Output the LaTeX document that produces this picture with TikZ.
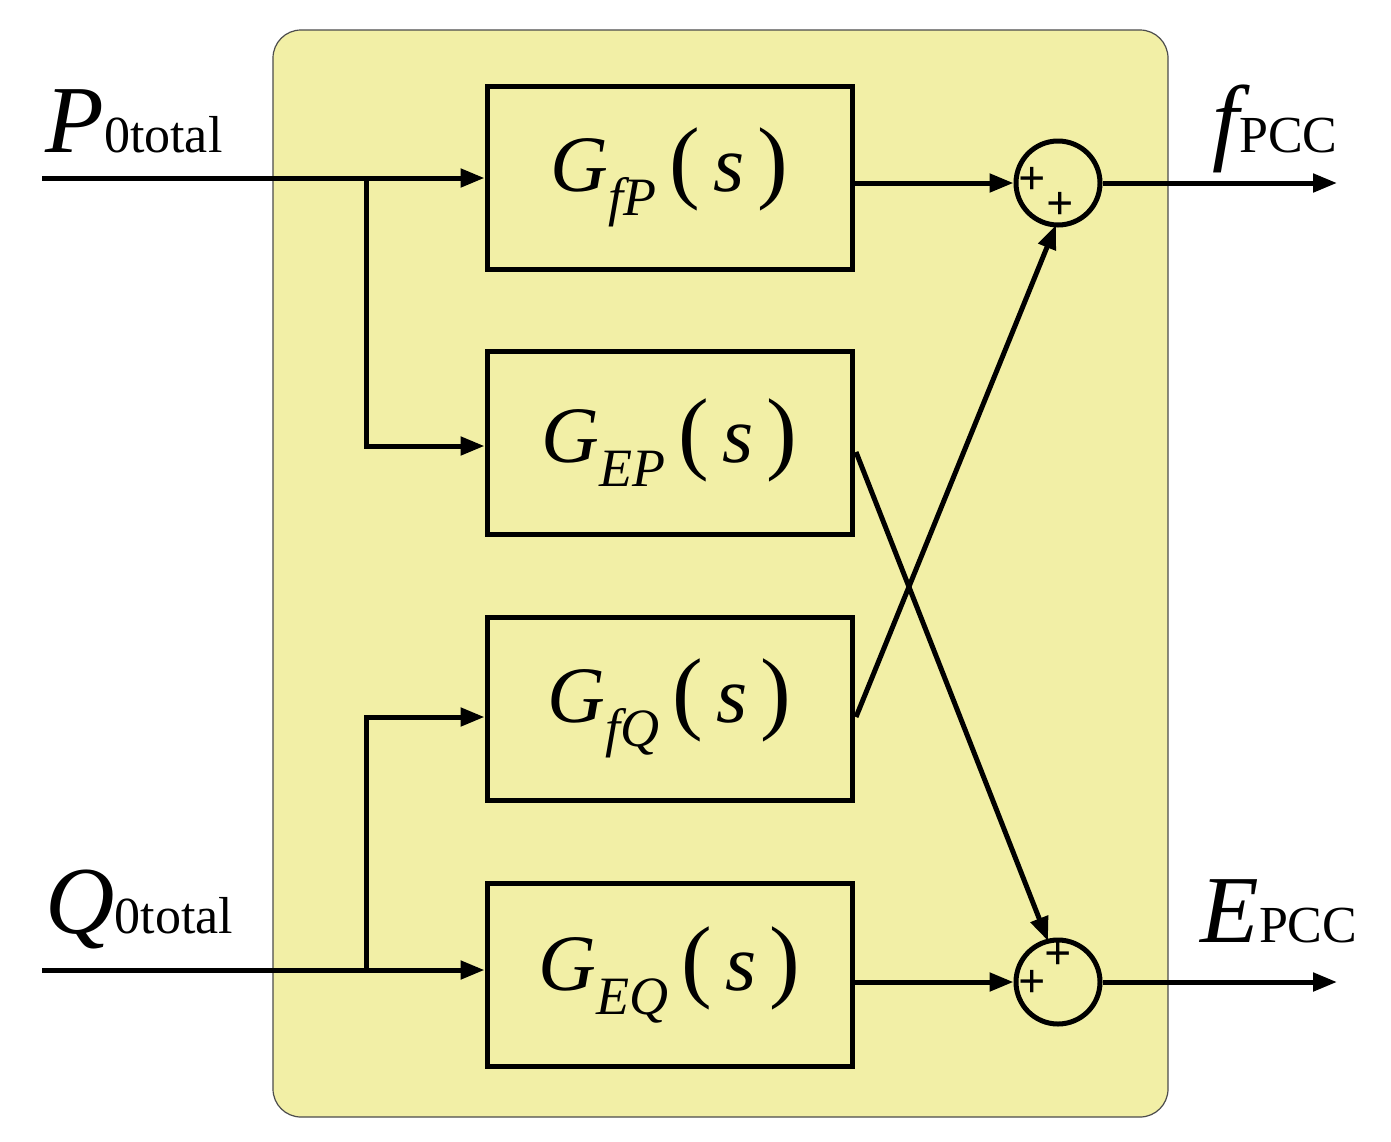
\documentclass[tikz,border=0pt]{standalone}
\usepackage{fontspec}
\setmainfont{Liberation Serif}
\usetikzlibrary{arrows.meta}
\definecolor{bg}{HTML}{F2EFA6}
\newcommand{\myfun}[1]{{\fontsize{40}{44}\selectfont\itshape G\raisebox{-12pt}{\fontsize{27}{27}\selectfont #1}\,{\upshape\fontsize{46}{46}\selectfont(}\,s\,{\upshape\fontsize{46}{46}\selectfont)}}}
\begin{document}
\begin{tikzpicture}[x=0.5pt,y=-0.5pt,
  blk/.style={draw,line width=2.5pt,minimum width=182.5pt,minimum height=91.5pt,inner sep=0},
  sum/.style={draw,circle,line width=2.5pt,minimum size=42pt,inner sep=0},
  ln/.style={line width=2.5pt},
  ar/.style={ln,-{Triangle[length=12pt,width=9pt]}},
  pl/.style={font=\fontsize{24}{24}\selectfont\bfseries}]
\useasboundingbox (0,0) rectangle (1391,1141);
\fill[bg,draw=black!70,line width=0.6pt,rounded corners=14pt] (273,30) rectangle (1168,1117);
\node[blk] (b1) at (669.5,177.5) {\myfun{fP}};
\node[blk] (b2) at (669.5,442.5) {\myfun{EP}};
\node[blk] (b3) at (669.5,708.5) {\myfun{fQ}};
\node[blk] (b4) at (669.5,975) {\myfun{EQ}};
\node[sum] (s1) at (1058,183) {};
\node[sum] (s2) at (1058,982) {};
\coordinate (pin) at (42,178); \coordinate (qin) at (42,970);
\coordinate (pb) at (366,178); \coordinate (qb) at (366,970);
\coordinate (fo) at (1337,183); \coordinate (eo) at (1337,982);
\draw[ar] (pin) -- (b1.west|-pin);
\draw[ar] (pb) |- (b2.west|-0,446);
\draw[ar] (qin) -- (b4.west|-qin);
\draw[ar] (qb) |- (b3.west|-0,717);
\draw[ar] (b1.east|-s1) -- (s1.west);
\draw[ar] (b4.east|-s2) -- (s2.west);
\draw[ar] (856,452) -- (1048,941);
\draw[ar] (856,717) -- (1056,225);
\draw[ar] (s1.east) -- (fo);
\draw[ar] (s2.east) -- (eo);
\node[pl] (p1) at (1032,181) {+};
\node[pl] (p2) at (1060,206) {+};
\node[pl] (p3) at (1032,984) {+};
\node[pl] (p4) at (1058,956) {+};
\node[anchor=base west,inner sep=0] (lp) at (45,152) {{\fontsize{48}{48}\selectfont\itshape P}{\fontsize{26}{26}\selectfont 0total}};
\node[anchor=base west,inner sep=0] (lq) at (45,933) {{\fontsize{48}{48}\selectfont\itshape Q}{\fontsize{26}{26}\selectfont 0total}};
\node[anchor=base west,inner sep=0] (lf) at (1212,152) {{\fontsize{48}{48}\selectfont\itshape f}{\fontsize{26}{26}\selectfont PCC}};
\node[anchor=base west,inner sep=0] (le) at (1200,942) {{\fontsize{48}{48}\selectfont\itshape E}{\fontsize{26}{26}\selectfont PCC}};
\end{tikzpicture}
\end{document}
